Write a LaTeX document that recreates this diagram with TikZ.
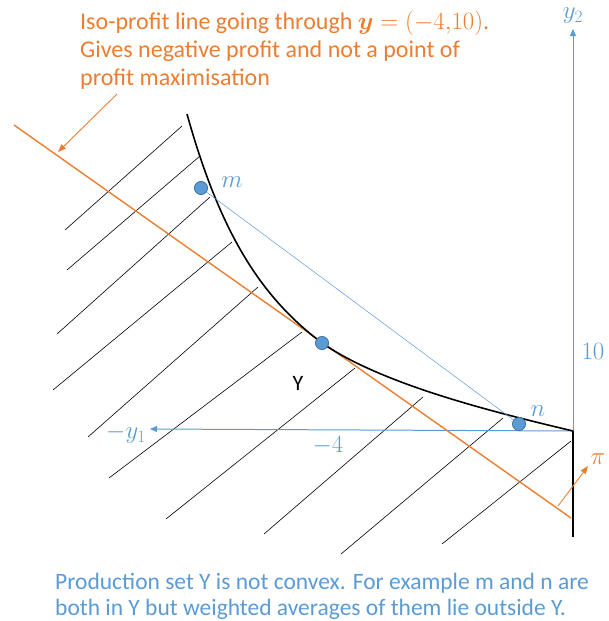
\documentclass[tikz,border=0pt]{standalone}
\usepackage{amsmath}
\usepackage{fontspec}
\setmainfont{Carlito}
\usetikzlibrary{arrows.meta}
\definecolor{obl}{RGB}{91,155,213}
\definecolor{oor}{RGB}{237,125,49}
\definecolor{odk}{RGB}{65,113,156}
\begin{document}
\begin{tikzpicture}[x=1pt,y=-1pt,
  hatch/.style={black, line width=0.6pt},
  bound/.style={black, line width=1.6pt},
  axis/.style={obl, line width=1pt, -{Triangle[length=7pt,width=6pt]}},
  chord/.style={obl, line width=0.5pt},
  iso/.style={oor, line width=1.4pt},
  oarrow/.style={oor, line width=0.9pt, -{Triangle[length=8pt,width=6pt]}},
  dot/.style={circle, fill=obl, draw=odk, line width=0.6pt, minimum size=13pt, inner sep=0pt},
  otext/.style={text=oor, font=\fontsize{24}{28}\selectfont, inner sep=0pt, anchor=base west},
  btext/.style={text=obl, font=\fontsize{23.5}{27}\selectfont, inner sep=0pt, anchor=base west},
  blab/.style={text=obl, font=\fontsize{26}{30}\selectfont, inner sep=0pt},
  olab/.style={text=oor, font=\fontsize{26}{30}\selectfont, inner sep=0pt}
]
\useasboundingbox (0,0) rectangle (608,621);

% hatching
\foreach \a/\b/\c/\d in {65/230/182/126, 67/270/200/156, 57/334/210/197, 53/390/232/242,
  88/437/258/287, 109/478/302/332, 166/519/355/368, 264/534/423/397, 341/554/503/418, 442/544/571/441}
  \draw[hatch] (\a,\b) -- (\c,\d);

% coordinates
\coordinate (O) at (573,431);
\coordinate (Top) at (187,114);
\coordinate (Y2) at (573,29);
\coordinate (Y1) at (150,429);
\coordinate (Bot) at (573,537);
\coordinate (L1) at (14,125);
\coordinate (L2) at (571,518);
\coordinate (A1) at (117,94);
\coordinate (A2) at (58,152);
\coordinate (P1) at (558,506);
\coordinate (P2) at (588,466);

% axes
\draw[axis] (O) -- (Y2);
\draw[axis] (O) -- (Y1);

% iso-profit line
\draw[iso] (L1) -- (L2);

% points
\node[dot] (m) at (201,188) {};
\node[dot] (t) at (322,343) {};
\node[dot] (n) at (519,424) {};

% boundary
\draw[bound] (Top) .. controls (222,240) and (265,300) .. (t.center)
  .. controls (382,384.5) and (493,412) .. (O);
\draw[bound] (O) -- (Bot);
\node[dot] at (t) {};

\draw[chord] (m.center) -- (n.center);
\node[dot] at (m) {};
\node[dot] at (n) {};

% arrows
\draw[oarrow] (A1) -- (A2);
\draw[oarrow] (P1) -- (P2);

% labels
\node[blab] (lm) at (232,182) {$m$};
\node[blab] (ln) at (538,411) {$n$};
\node[olab] (lpi) at (598,459) {$\pi$};
\node[blab] (ly2) at (573,16) {$y_2$};
\node[blab] (ly1) at (126,434) {$-y_1$};
\node[blab] (l10) at (593,351) {$10$};
\node[blab] (l4) at (328,446) {$-4$};
\node[text=black, font=\fontsize{22}{26}\selectfont, inner sep=0pt] (lY) at (298,383) {Y};

% texts
\node[otext] (t1) at (80,29) {Iso-profit line going through $\boldsymbol{y}=(-4{,}10)$.};
\node[otext] (t2) at (80,57) {Gives negative profit and not a point of};
\node[otext] (t3) at (80,85) {profit maximisation};
\node[btext] (b1) at (55,589) {Production set Y is not convex. For example m and n are};
\node[btext] (b2) at (55,615) {both in Y but weighted averages of them lie outside Y.};
\end{tikzpicture}
\end{document}
